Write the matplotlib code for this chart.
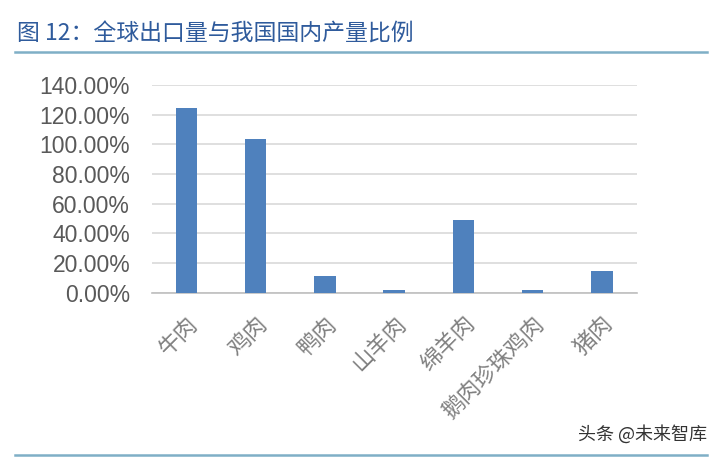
#!/usr/bin/env python3
"""Bar chart: global export volume as share of China's domestic output."""
import matplotlib
matplotlib.use("Agg")
import matplotlib.pyplot as plt
from matplotlib.ticker import FuncFormatter

plt.rcParams["font.family"] = ["Noto Sans CJK SC", "DejaVu Sans"]

TITLE = "图 12：全球出口量与我国国内产量比例"
CATEGORIES = ["牛肉", "鸡肉", "鸭肉", "山羊肉", "绵羊肉", "鹅肉珍珠鸡肉", "猪肉"]
RATIOS = [124.7, 103.4, 11.0, 2.0, 49.2, 1.6, 14.6]  # percent
Y_TICKS = [0, 20, 40, 60, 80, 100, 120, 140]
BAR_COLOR = "#4F81BD"
LINE_COLOR = "#7FAFC6"


def main():
    fig = plt.figure(figsize=(7.19, 4.58), dpi=100)
    ax = fig.add_axes([0.211, 0.361, 0.6745, 0.4534])

    xs = list(range(len(CATEGORIES)))
    ax.bar(xs, RATIOS, width=0.31, color=BAR_COLOR, zorder=3)

    ax.set_xlim(-0.5, len(CATEGORIES) - 0.5)
    ax.set_ylim(0, 140)
    ax.set_yticks(Y_TICKS)
    ax.yaxis.set_major_formatter(FuncFormatter(lambda v, _: f"{v:.2f}%"))
    ax.grid(axis="y", color="#D9D9D9", linewidth=1.2, zorder=0)

    for side in ("top", "right", "left"):
        ax.spines[side].set_visible(False)
    ax.spines["bottom"].set_color("#BFBFBF")
    ax.spines["bottom"].set_linewidth(1.2)
    ax.tick_params(axis="both", length=0)
    ax.tick_params(axis="y", pad=15.5)

    for lbl in ax.get_yticklabels():
        lbl.set_family(["Liberation Sans", "DejaVu Sans"])
        lbl.set_fontsize(16.5)
        lbl.set_color("#595959")

    ax.set_xticks(xs)
    ax.set_xticklabels(CATEGORIES, rotation=45, ha="right", rotation_mode="anchor",
                       fontsize=16, color="#808080")
    ax.tick_params(axis="x", pad=14)

    fig.text(0.024, 0.925, TITLE, fontsize=16.5, color="#2F5B9C", va="center")
    fig.add_artist(plt.Line2D([0.021, 0.983], [0.887, 0.887], color=LINE_COLOR,
                              linewidth=1.8, transform=fig.transFigure))
    fig.add_artist(plt.Line2D([0.021, 0.983], [0.006, 0.006], color=LINE_COLOR,
                              linewidth=1.8, transform=fig.transFigure))
    fig.text(0.983, 0.052, "头条 @未来智库", fontsize=13, color="#333333",
             ha="right", va="center")

    fig.savefig("out.png", dpi=100)
    plt.close(fig)


if __name__ == "__main__":
    main()
